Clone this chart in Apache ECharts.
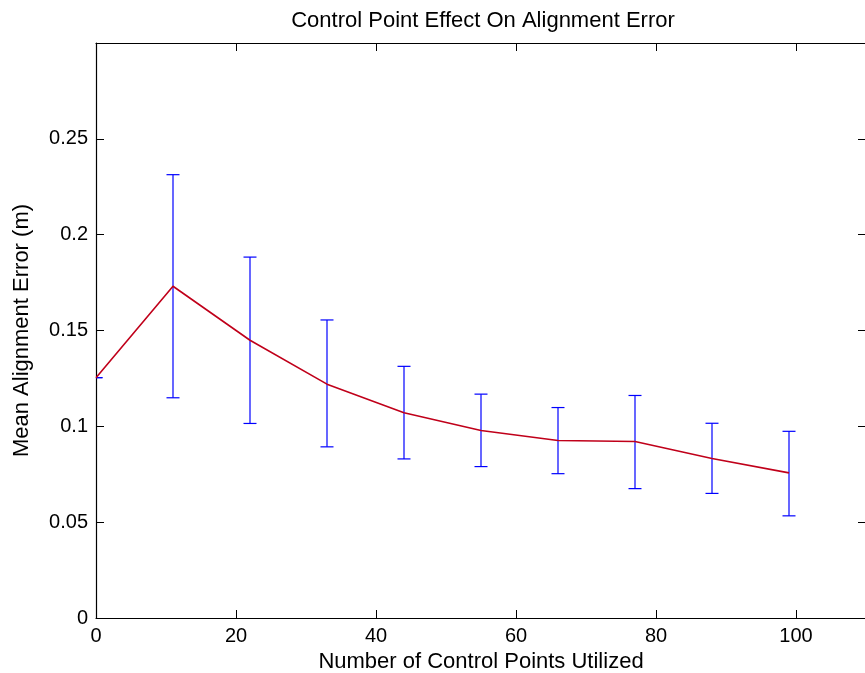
<!DOCTYPE html>
<html>
<head>
<meta charset="utf-8">
<script src="https://cdn.jsdelivr.net/npm/echarts@6/dist/echarts.min.js"></script>
<style>
  html, body { margin: 0; padding: 0; background: #fff; }
  #chart { width: 865px; height: 673px; }
</style>
</head>
<body>
<div id="chart"></div>
<script>
//  control point counts
const pointCounts = [0, 11, 22, 33, 44, 55, 66, 77, 88, 99];
//  mean alignment error (m)
const meanError = [0.1254, 0.1731, 0.1449, 0.1220, 0.1071, 0.0978, 0.0926, 0.0921, 0.0832, 0.0757];
//  error bar ends
const errorLow = [0.1254, 0.1149, 0.1015, 0.0893, 0.0830, 0.0790, 0.0753, 0.0675, 0.0650, 0.0533];
const errorHigh = [0.1254, 0.2313, 0.1883, 0.1555, 0.1313, 0.1168, 0.1098, 0.1161, 0.1016, 0.0974];

const fontFamily = '"Liberation Sans", Arial, Helvetica, sans-serif';

const meanData = pointCounts.map((x, i) => [x, meanError[i]]);
const barData = pointCounts.map((x, i) => [x, errorLow[i], errorHigh[i]]);

//  error bar: vertical line plus two caps
function renderErrorBar(params, api) {
    const x = api.value(0);
    const low = api.coord([x, api.value(1)]);
    const high = api.coord([x, api.value(2)]);
    const half = 6.5;
    const style = { stroke: '#0000ff', lineWidth: 1.2 };
    return {
        type: 'group',
        children: [
            { type: 'line', shape: { x1: low[0], y1: low[1], x2: high[0], y2: high[1] }, style: style },
            { type: 'line', shape: { x1: low[0] - half, y1: low[1], x2: low[0] + half, y2: low[1] }, style: style },
            { type: 'line', shape: { x1: high[0] - half, y1: high[1], x2: high[0] + half, y2: high[1] }, style: style }
        ]
    };
}

//  MATLAB-like box: axis lines not on zero, ticks inside
const axisLineStyle = { onZero: false, lineStyle: { color: '#000', width: 1.2 } };
const tickStyle = { inside: true, length: 8, lineStyle: { color: '#000', width: 1 } };
const labelStyle = { color: '#000', fontSize: 20, fontFamily: fontFamily };
const nameStyle = { color: '#000', fontSize: 22, fontFamily: fontFamily };

const myChart = echarts.init(document.getElementById('chart'));
myChart.setOption({
    animation: false,
    backgroundColor: '#fff',
    graphic: [
        {
            type: 'text',
            x: 483,
            y: 21,
            style: {
                text: 'Control Point Effect On Alignment Error',
                fill: '#000',
                font: '22px ' + fontFamily,
                align: 'center',
                verticalAlign: 'middle'
            }
        }
    ],
    grid: { left: 96, right: -1, top: 43, bottom: 55, outerBoundsMode: 'none' },
    xAxis: [
        {
            type: 'value',
            position: 'bottom',
            min: 0,
            max: 110,
            interval: 20,
            name: 'Number of Control Points Utilized',
            nameLocation: 'middle',
            nameGap: 33,
            nameTextStyle: nameStyle,
            axisLine: axisLineStyle,
            axisTick: tickStyle,
            axisLabel: Object.assign({ margin: 8, showMaxLabel: false }, labelStyle),
            splitLine: { show: false }
        },
        {
            type: 'value',
            position: 'top',
            min: 0,
            max: 110,
            interval: 20,
            axisLine: axisLineStyle,
            axisTick: tickStyle,
            axisLabel: { show: false },
            splitLine: { show: false }
        }
    ],
    yAxis: [
        {
            type: 'value',
            position: 'left',
            min: 0,
            max: 0.3,
            interval: 0.05,
            name: 'Mean Alignment Error (m)',
            nameLocation: 'middle',
            nameGap: 63,
            nameTextStyle: nameStyle,
            axisLine: axisLineStyle,
            axisTick: tickStyle,
            axisLabel: Object.assign({ margin: 8, showMaxLabel: false }, labelStyle),
            splitLine: { show: false }
        },
        {
            type: 'value',
            position: 'right',
            min: 0,
            max: 0.3,
            interval: 0.05,
            axisLine: axisLineStyle,
            axisTick: tickStyle,
            axisLabel: { show: false },
            splitLine: { show: false }
        }
    ],
    series: [
        {
            type: 'custom',
            renderItem: renderErrorBar,
            data: barData,
            clip: true,
            z: 2
        },
        {
            type: 'line',
            data: meanData,
            symbol: 'none',
            lineStyle: { color: '#c0001a', width: 1.6 },
            z: 3
        }
    ]
});
</script>
</body>
</html>
